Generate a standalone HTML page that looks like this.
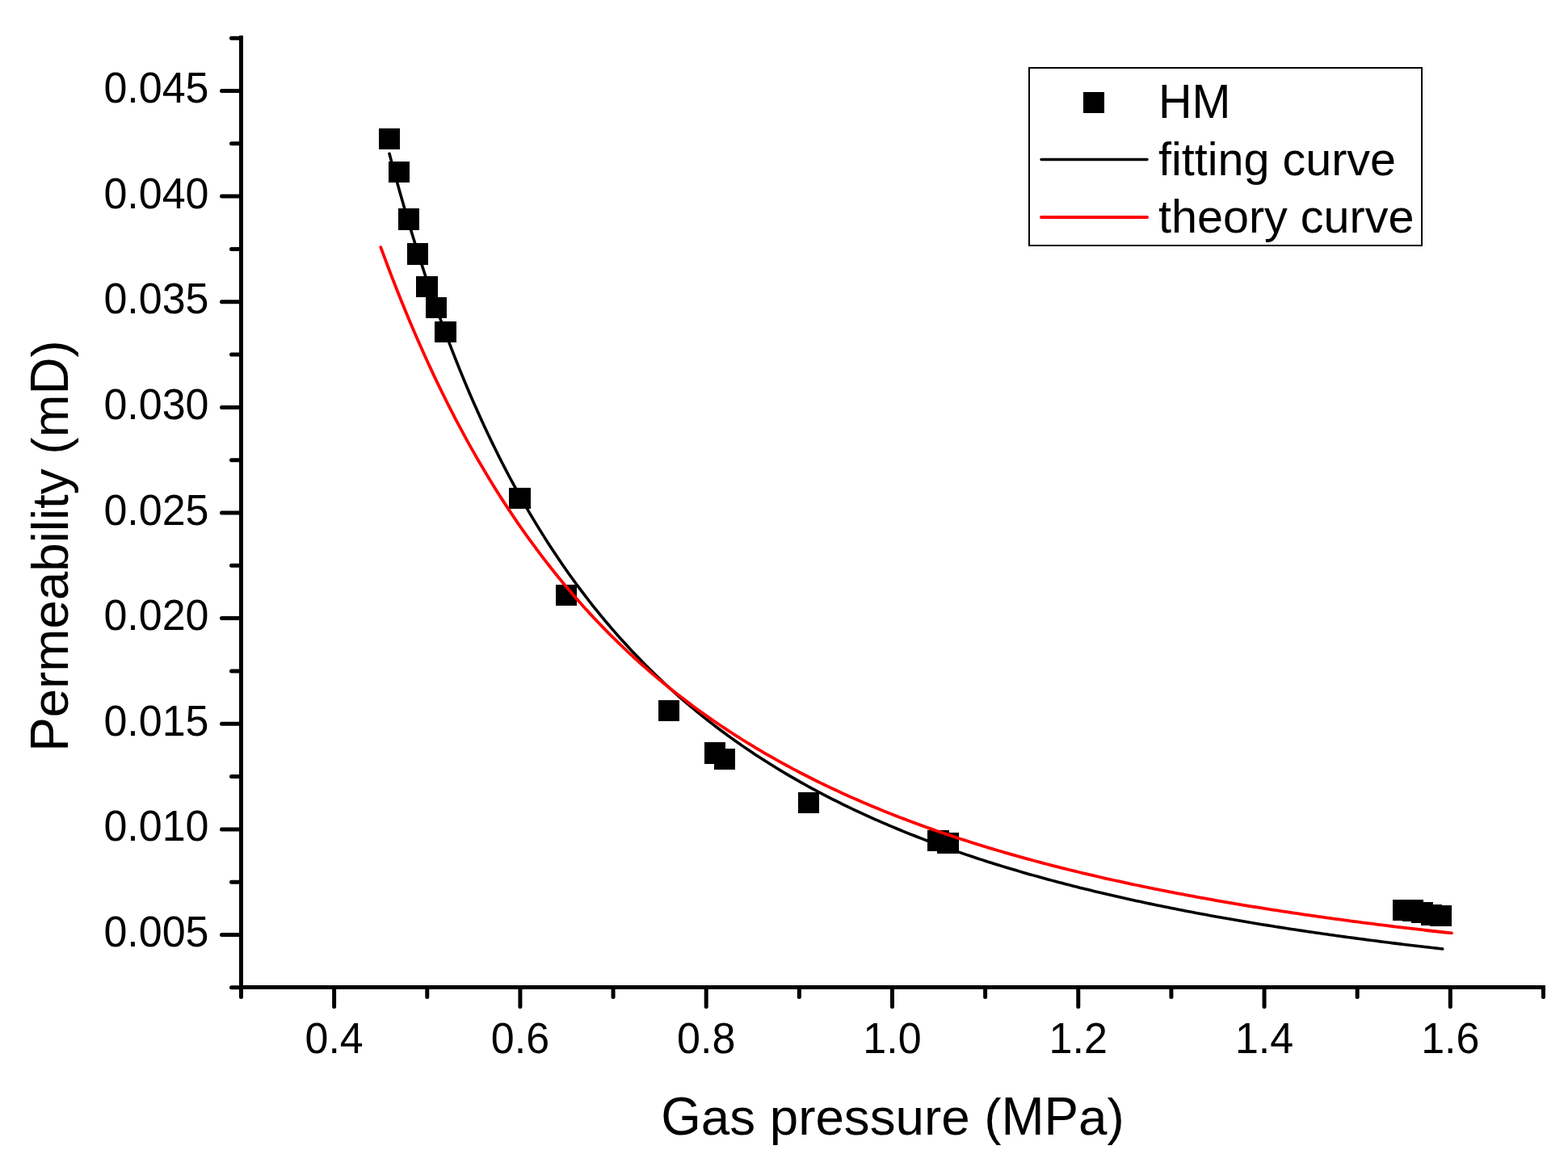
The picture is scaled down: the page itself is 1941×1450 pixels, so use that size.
<!DOCTYPE html>
<html><head><meta charset="utf-8"><style>
html,body{margin:0;padding:0;background:#fff;width:1941px;height:1450px;overflow:hidden;}
svg{display:block;}
text{font-family:"Liberation Sans",sans-serif;fill:#000;}
.tl{font-size:52px;}
.ti{font-size:63.7px;}
.lg{font-size:57.5px;}
</style></head><body>
<svg width="1941" height="1450" viewBox="0 0 1941 1450">
<rect width="1941" height="1450" fill="#fff"/>
<g fill="#000" shape-rendering="crispEdges">
<rect x="469" y="159" width="26" height="26"/>
<rect x="481" y="200" width="26" height="26"/>
<rect x="493" y="258" width="26" height="27"/>
<rect x="504" y="301" width="26" height="27"/>
<rect x="515" y="342" width="27" height="26"/>
<rect x="527" y="368" width="26" height="26"/>
<rect x="538" y="398" width="27" height="26"/>
<rect x="630" y="604" width="27" height="26"/>
<rect x="688" y="724" width="26" height="26"/>
<rect x="815" y="867" width="26" height="26"/>
<rect x="872" y="919" width="26" height="27"/>
<rect x="884" y="927" width="26" height="26"/>
<rect x="988" y="981" width="26" height="26"/>
<rect x="1148" y="1028" width="27" height="26"/>
<rect x="1160" y="1031" width="27" height="26"/>
<rect x="1724" y="1114" width="26" height="26"/>
<rect x="1736" y="1114" width="26" height="27"/>
<rect x="1747" y="1117" width="27" height="26"/>
<rect x="1759" y="1120" width="26" height="26"/>
<rect x="1770" y="1121" width="27" height="26"/>
</g>
<path d="M482.00,190.26 L486.36,206.64 L490.72,222.65 L495.08,238.29 L499.44,253.58 L503.80,268.53 L508.16,283.15 L512.52,297.44 L516.88,311.42 L521.24,325.10 L525.60,338.49 L529.96,351.59 L534.32,364.41 L538.68,376.97 L543.04,389.26 L547.40,401.29 L551.76,413.08 L556.12,424.63 L560.48,435.95 L564.84,447.03 L569.20,457.90 L573.56,468.55 L577.92,478.99 L582.28,489.22 L586.64,499.26 L591.01,509.10 L595.37,518.76 L599.73,528.23 L604.09,537.52 L608.45,546.64 L612.81,555.58 L617.17,564.36 L621.53,572.98 L625.89,581.44 L630.25,589.75 L634.61,597.91 L638.97,605.92 L643.33,613.79 L647.69,621.51 L652.05,629.11 L656.41,636.57 L660.77,643.90 L665.13,651.10 L669.49,658.18 L673.85,665.14 L678.21,671.97 L682.57,678.70 L686.93,685.31 L691.29,691.81 L695.65,698.20 L700.01,704.49 L704.37,710.68 L708.73,716.76 L713.09,722.75 L717.45,728.64 L721.81,734.43 L726.17,740.13 L730.53,745.74 L734.89,751.27 L739.25,756.70 L743.61,762.06 L747.97,767.33 L752.33,772.51 L756.69,777.62 L761.05,782.65 L765.41,787.61 L769.77,792.49 L774.13,797.29 L778.49,802.03 L782.85,806.69 L787.21,811.29 L791.57,815.82 L795.93,820.28 L800.29,824.67 L804.65,829.01 L809.02,833.28 L813.38,837.49 L817.74,841.64 L822.10,845.73 L826.46,849.76 L830.82,853.74 L835.18,857.66 L839.54,861.53 L843.90,865.34 L848.26,869.10 L852.62,872.81 L856.98,876.47 L861.34,880.08 L865.70,883.64 L870.06,887.15 L874.42,890.61 L878.78,894.03 L883.14,897.41 L887.50,900.74 L891.86,904.02 L896.22,907.27 L900.58,910.47 L904.94,913.63 L909.30,916.74 L913.66,919.82 L918.02,922.86 L922.38,925.86 L926.74,928.83 L931.10,931.75 L935.46,934.64 L939.82,937.49 L944.18,940.31 L948.54,943.09 L952.90,945.84 L957.26,948.55 L961.62,951.23 L965.98,953.88 L970.34,956.50 L974.70,959.08 L979.06,961.64 L983.42,964.16 L987.78,966.65 L992.14,969.12 L996.50,971.55 L1000.86,973.96 L1005.22,976.33 L1009.58,978.68 L1013.94,981.01 L1018.30,983.30 L1022.66,985.57 L1027.03,987.81 L1031.39,990.03 L1035.75,992.22 L1040.11,994.39 L1044.47,996.53 L1048.83,998.65 L1053.19,1000.75 L1057.55,1002.82 L1061.91,1004.87 L1066.27,1006.90 L1070.63,1008.90 L1074.99,1010.88 L1079.35,1012.84 L1083.71,1014.78 L1088.07,1016.70 L1092.43,1018.59 L1096.79,1020.47 L1101.15,1022.33 L1105.51,1024.16 L1109.87,1025.98 L1114.23,1027.78 L1118.59,1029.56 L1122.95,1031.32 L1127.31,1033.06 L1131.67,1034.78 L1136.03,1036.48 L1140.39,1038.17 L1144.75,1039.84 L1149.11,1041.49 L1153.47,1043.13 L1157.83,1044.75 L1162.19,1046.35 L1166.55,1047.94 L1170.91,1049.51 L1175.27,1051.06 L1179.63,1052.60 L1183.99,1054.13 L1188.35,1055.63 L1192.71,1057.13 L1197.07,1058.61 L1201.43,1060.07 L1205.79,1061.52 L1210.15,1062.95 L1214.51,1064.37 L1218.87,1065.78 L1223.23,1067.18 L1227.59,1068.56 L1231.95,1069.92 L1236.31,1071.28 L1240.67,1072.62 L1245.04,1073.94 L1249.40,1075.26 L1253.76,1076.56 L1258.12,1077.85 L1262.48,1079.13 L1266.84,1080.40 L1271.20,1081.65 L1275.56,1082.90 L1279.92,1084.13 L1284.28,1085.35 L1288.64,1086.56 L1293.00,1087.75 L1297.36,1088.94 L1301.72,1090.12 L1306.08,1091.28 L1310.44,1092.43 L1314.80,1093.58 L1319.16,1094.71 L1323.52,1095.84 L1327.88,1096.95 L1332.24,1098.05 L1336.60,1099.15 L1340.96,1100.23 L1345.32,1101.30 L1349.68,1102.37 L1354.04,1103.42 L1358.40,1104.47 L1362.76,1105.51 L1367.12,1106.54 L1371.48,1107.55 L1375.84,1108.56 L1380.20,1109.57 L1384.56,1110.56 L1388.92,1111.54 L1393.28,1112.52 L1397.64,1113.49 L1402.00,1114.45 L1406.36,1115.40 L1410.72,1116.34 L1415.08,1117.28 L1419.44,1118.20 L1423.80,1119.12 L1428.16,1120.03 L1432.52,1120.94 L1436.88,1121.84 L1441.24,1122.73 L1445.60,1123.61 L1449.96,1124.48 L1454.32,1125.35 L1458.68,1126.21 L1463.05,1127.06 L1467.41,1127.91 L1471.77,1128.75 L1476.13,1129.58 L1480.49,1130.41 L1484.85,1131.23 L1489.21,1132.04 L1493.57,1132.85 L1497.93,1133.65 L1502.29,1134.44 L1506.65,1135.23 L1511.01,1136.01 L1515.37,1136.78 L1519.73,1137.55 L1524.09,1138.31 L1528.45,1139.07 L1532.81,1139.82 L1537.17,1140.57 L1541.53,1141.31 L1545.89,1142.04 L1550.25,1142.77 L1554.61,1143.49 L1558.97,1144.21 L1563.33,1144.92 L1567.69,1145.62 L1572.05,1146.32 L1576.41,1147.02 L1580.77,1147.71 L1585.13,1148.39 L1589.49,1149.07 L1593.85,1149.75 L1598.21,1150.42 L1602.57,1151.08 L1606.93,1151.74 L1611.29,1152.39 L1615.65,1153.04 L1620.01,1153.69 L1624.37,1154.33 L1628.73,1154.96 L1633.09,1155.59 L1637.45,1156.22 L1641.81,1156.84 L1646.17,1157.46 L1650.53,1158.07 L1654.89,1158.68 L1659.25,1159.28 L1663.61,1159.88 L1667.97,1160.48 L1672.33,1161.07 L1676.69,1161.65 L1681.06,1162.24 L1685.42,1162.81 L1689.78,1163.39 L1694.14,1163.96 L1698.50,1164.52 L1702.86,1165.09 L1707.22,1165.64 L1711.58,1166.20 L1715.94,1166.75 L1720.30,1167.29 L1724.66,1167.84 L1729.02,1168.38 L1733.38,1168.91 L1737.74,1169.44 L1742.10,1169.97 L1746.46,1170.49 L1750.82,1171.01 L1755.18,1171.53 L1759.54,1172.04 L1763.90,1172.55 L1768.26,1173.06 L1772.62,1173.56 L1776.98,1174.06 L1781.34,1174.56 L1785.70,1175.05" fill="none" stroke="#000" stroke-width="3.6" stroke-linejoin="round" stroke-linecap="round"/>
<path d="M471.30,306.11 L475.73,318.15 L480.17,329.98 L484.60,341.61 L489.03,353.02 L493.47,364.24 L497.90,375.26 L502.33,386.09 L506.77,396.74 L511.20,407.20 L515.63,417.48 L520.07,427.58 L524.50,437.52 L528.93,447.28 L533.37,456.88 L537.80,466.32 L542.24,475.61 L546.67,484.73 L551.10,493.71 L555.54,502.54 L559.97,511.22 L564.40,519.76 L568.84,528.17 L573.27,536.43 L577.70,544.57 L582.14,552.57 L586.57,560.44 L591.00,568.19 L595.44,575.81 L599.87,583.32 L604.30,590.71 L608.74,597.98 L613.17,605.13 L617.60,612.18 L622.04,619.12 L626.47,625.95 L630.90,632.67 L635.34,639.29 L639.77,645.82 L644.20,652.24 L648.64,658.57 L653.07,664.80 L657.50,670.93 L661.94,676.98 L666.37,682.94 L670.81,688.81 L675.24,694.59 L679.67,700.29 L684.11,705.90 L688.54,711.44 L692.97,716.89 L697.41,722.26 L701.84,727.56 L706.27,732.78 L710.71,737.93 L715.14,743.01 L719.57,748.01 L724.01,752.94 L728.44,757.80 L732.87,762.60 L737.31,767.33 L741.74,771.99 L746.17,776.59 L750.61,781.13 L755.04,785.61 L759.47,790.02 L763.91,794.37 L768.34,798.67 L772.77,802.91 L777.21,807.09 L781.64,811.21 L786.07,815.28 L790.51,819.30 L794.94,823.26 L799.37,827.18 L803.81,831.04 L808.24,834.85 L812.68,838.61 L817.11,842.32 L821.54,845.99 L825.98,849.60 L830.41,853.18 L834.84,856.70 L839.28,860.18 L843.71,863.62 L848.14,867.02 L852.58,870.37 L857.01,873.68 L861.44,876.95 L865.88,880.17 L870.31,883.36 L874.74,886.51 L879.18,889.62 L883.61,892.70 L888.04,895.73 L892.48,898.73 L896.91,901.69 L901.34,904.62 L905.78,907.51 L910.21,910.37 L914.64,913.20 L919.08,915.99 L923.51,918.74 L927.94,921.47 L932.38,924.16 L936.81,926.82 L941.25,929.45 L945.68,932.05 L950.11,934.63 L954.55,937.17 L958.98,939.68 L963.41,942.16 L967.85,944.62 L972.28,947.04 L976.71,949.44 L981.15,951.82 L985.58,954.16 L990.01,956.48 L994.45,958.78 L998.88,961.04 L1003.31,963.29 L1007.75,965.51 L1012.18,967.70 L1016.61,969.87 L1021.05,972.02 L1025.48,974.14 L1029.91,976.24 L1034.35,978.32 L1038.78,980.37 L1043.21,982.41 L1047.65,984.42 L1052.08,986.41 L1056.51,988.38 L1060.95,990.33 L1065.38,992.26 L1069.82,994.16 L1074.25,996.05 L1078.68,997.92 L1083.12,999.77 L1087.55,1001.60 L1091.98,1003.41 L1096.42,1005.20 L1100.85,1006.97 L1105.28,1008.73 L1109.72,1010.47 L1114.15,1012.19 L1118.58,1013.89 L1123.02,1015.57 L1127.45,1017.24 L1131.88,1018.89 L1136.32,1020.53 L1140.75,1022.15 L1145.18,1023.75 L1149.62,1025.34 L1154.05,1026.91 L1158.48,1028.46 L1162.92,1030.01 L1167.35,1031.53 L1171.78,1033.04 L1176.22,1034.54 L1180.65,1036.02 L1185.08,1037.49 L1189.52,1038.94 L1193.95,1040.38 L1198.38,1041.80 L1202.82,1043.22 L1207.25,1044.61 L1211.69,1046.00 L1216.12,1047.37 L1220.55,1048.73 L1224.99,1050.08 L1229.42,1051.41 L1233.85,1052.73 L1238.29,1054.04 L1242.72,1055.34 L1247.15,1056.62 L1251.59,1057.90 L1256.02,1059.16 L1260.45,1060.41 L1264.89,1061.65 L1269.32,1062.87 L1273.75,1064.09 L1278.19,1065.29 L1282.62,1066.49 L1287.05,1067.67 L1291.49,1068.85 L1295.92,1070.01 L1300.35,1071.16 L1304.79,1072.30 L1309.22,1073.43 L1313.65,1074.56 L1318.09,1075.67 L1322.52,1076.77 L1326.95,1077.86 L1331.39,1078.94 L1335.82,1080.02 L1340.26,1081.08 L1344.69,1082.14 L1349.12,1083.18 L1353.56,1084.22 L1357.99,1085.25 L1362.42,1086.27 L1366.86,1087.28 L1371.29,1088.28 L1375.72,1089.27 L1380.16,1090.26 L1384.59,1091.23 L1389.02,1092.20 L1393.46,1093.16 L1397.89,1094.11 L1402.32,1095.06 L1406.76,1095.99 L1411.19,1096.92 L1415.62,1097.84 L1420.06,1098.76 L1424.49,1099.66 L1428.92,1100.56 L1433.36,1101.45 L1437.79,1102.34 L1442.22,1103.21 L1446.66,1104.08 L1451.09,1104.94 L1455.52,1105.80 L1459.96,1106.65 L1464.39,1107.49 L1468.83,1108.32 L1473.26,1109.15 L1477.69,1109.97 L1482.13,1110.79 L1486.56,1111.60 L1490.99,1112.40 L1495.43,1113.20 L1499.86,1113.99 L1504.29,1114.77 L1508.73,1115.55 L1513.16,1116.32 L1517.59,1117.08 L1522.03,1117.84 L1526.46,1118.60 L1530.89,1119.34 L1535.33,1120.09 L1539.76,1120.82 L1544.19,1121.55 L1548.63,1122.28 L1553.06,1123.00 L1557.49,1123.71 L1561.93,1124.42 L1566.36,1125.12 L1570.79,1125.82 L1575.23,1126.51 L1579.66,1127.20 L1584.09,1127.88 L1588.53,1128.56 L1592.96,1129.23 L1597.39,1129.90 L1601.83,1130.56 L1606.26,1131.22 L1610.70,1131.87 L1615.13,1132.52 L1619.56,1133.16 L1624.00,1133.80 L1628.43,1134.44 L1632.86,1135.06 L1637.30,1135.69 L1641.73,1136.31 L1646.16,1136.92 L1650.60,1137.54 L1655.03,1138.14 L1659.46,1138.74 L1663.90,1139.34 L1668.33,1139.94 L1672.76,1140.53 L1677.20,1141.11 L1681.63,1141.69 L1686.06,1142.27 L1690.50,1142.84 L1694.93,1143.41 L1699.36,1143.98 L1703.80,1144.54 L1708.23,1145.09 L1712.66,1145.65 L1717.10,1146.20 L1721.53,1146.74 L1725.96,1147.28 L1730.40,1147.82 L1734.83,1148.35 L1739.27,1148.89 L1743.70,1149.41 L1748.13,1149.94 L1752.57,1150.46 L1757.00,1150.97 L1761.43,1151.48 L1765.87,1151.99 L1770.30,1152.50 L1774.73,1153.00 L1779.17,1153.50 L1783.60,1154.00 L1788.03,1154.49 L1792.47,1154.98 L1796.90,1155.46" fill="none" stroke="#f00" stroke-width="3.8" stroke-linejoin="round" stroke-linecap="round"/>
<g>
<line x1="298.5" y1="44" x2="298.5" y2="1225" stroke="#000" stroke-width="5"/>
<line x1="296" y1="1222.5" x2="1913" y2="1222.5" stroke="#000" stroke-width="5"/>
<g stroke="#000" stroke-width="5" stroke-linecap="round">
<line x1="286.5" y1="1222.81" x2="298.5" y2="1222.81"/>
<line x1="274.5" y1="1157.50" x2="298.5" y2="1157.50"/>
<line x1="286.5" y1="1092.19" x2="298.5" y2="1092.19"/>
<line x1="274.5" y1="1026.88" x2="298.5" y2="1026.88"/>
<line x1="286.5" y1="961.56" x2="298.5" y2="961.56"/>
<line x1="274.5" y1="896.25" x2="298.5" y2="896.25"/>
<line x1="286.5" y1="830.94" x2="298.5" y2="830.94"/>
<line x1="274.5" y1="765.62" x2="298.5" y2="765.62"/>
<line x1="286.5" y1="700.31" x2="298.5" y2="700.31"/>
<line x1="274.5" y1="635.00" x2="298.5" y2="635.00"/>
<line x1="286.5" y1="569.69" x2="298.5" y2="569.69"/>
<line x1="274.5" y1="504.38" x2="298.5" y2="504.38"/>
<line x1="286.5" y1="439.06" x2="298.5" y2="439.06"/>
<line x1="274.5" y1="373.75" x2="298.5" y2="373.75"/>
<line x1="286.5" y1="308.44" x2="298.5" y2="308.44"/>
<line x1="274.5" y1="243.12" x2="298.5" y2="243.12"/>
<line x1="286.5" y1="177.81" x2="298.5" y2="177.81"/>
<line x1="274.5" y1="112.50" x2="298.5" y2="112.50"/>
<line x1="286.5" y1="47.19" x2="298.5" y2="47.19"/>
<line x1="298.50" y1="1222.5" x2="298.50" y2="1234.5"/>
<line x1="413.64" y1="1222.5" x2="413.64" y2="1246.5"/>
<line x1="528.78" y1="1222.5" x2="528.78" y2="1234.5"/>
<line x1="643.92" y1="1222.5" x2="643.92" y2="1246.5"/>
<line x1="759.06" y1="1222.5" x2="759.06" y2="1234.5"/>
<line x1="874.20" y1="1222.5" x2="874.20" y2="1246.5"/>
<line x1="989.34" y1="1222.5" x2="989.34" y2="1234.5"/>
<line x1="1104.48" y1="1222.5" x2="1104.48" y2="1246.5"/>
<line x1="1219.62" y1="1222.5" x2="1219.62" y2="1234.5"/>
<line x1="1334.76" y1="1222.5" x2="1334.76" y2="1246.5"/>
<line x1="1449.90" y1="1222.5" x2="1449.90" y2="1234.5"/>
<line x1="1565.04" y1="1222.5" x2="1565.04" y2="1246.5"/>
<line x1="1680.18" y1="1222.5" x2="1680.18" y2="1234.5"/>
<line x1="1795.32" y1="1222.5" x2="1795.32" y2="1246.5"/>
<line x1="1910.46" y1="1222.5" x2="1910.46" y2="1234.5"/>
</g>
</g>
<text transform="translate(258.5,1172.0) scale(1,1.04)" text-anchor="end" class="tl">0.005</text>
<text transform="translate(258.5,1041.4) scale(1,1.04)" text-anchor="end" class="tl">0.010</text>
<text transform="translate(258.5,910.8) scale(1,1.04)" text-anchor="end" class="tl">0.015</text>
<text transform="translate(258.5,780.1) scale(1,1.04)" text-anchor="end" class="tl">0.020</text>
<text transform="translate(258.5,649.5) scale(1,1.04)" text-anchor="end" class="tl">0.025</text>
<text transform="translate(258.5,518.9) scale(1,1.04)" text-anchor="end" class="tl">0.030</text>
<text transform="translate(258.5,388.2) scale(1,1.04)" text-anchor="end" class="tl">0.035</text>
<text transform="translate(258.5,257.6) scale(1,1.04)" text-anchor="end" class="tl">0.040</text>
<text transform="translate(258.5,127.0) scale(1,1.04)" text-anchor="end" class="tl">0.045</text>
<text transform="translate(413.64,1303.8) scale(1,1.04)" text-anchor="middle" class="tl">0.4</text>
<text transform="translate(643.92,1303.8) scale(1,1.04)" text-anchor="middle" class="tl">0.6</text>
<text transform="translate(874.20,1303.8) scale(1,1.04)" text-anchor="middle" class="tl">0.8</text>
<text transform="translate(1104.48,1303.8) scale(1,1.04)" text-anchor="middle" class="tl">1.0</text>
<text transform="translate(1334.76,1303.8) scale(1,1.04)" text-anchor="middle" class="tl">1.2</text>
<text transform="translate(1565.04,1303.8) scale(1,1.04)" text-anchor="middle" class="tl">1.4</text>
<text transform="translate(1795.32,1303.8) scale(1,1.04)" text-anchor="middle" class="tl">1.6</text>
<text transform="translate(818.33,1404.5) scale(1,1.04)" class="ti">G</text>
<text x="867.86" y="1404.5" class="ti">as pressure (</text>
<text transform="translate(1239.50,1404.5) scale(1,1.04)" class="ti">MP</text>
<text x="1335.03" y="1404.5" class="ti">a)</text>
<g transform="translate(84,676) rotate(-90)">
<text transform="translate(-254.78,0) scale(1,1.04)" class="ti">P</text>
<text x="-212.31" y="0" class="ti">ermeability (m</text>
<text transform="translate(187.58,0) scale(1,1.04)" class="ti">D</text>
<text x="233.56" y="0" class="ti">)</text>
</g>
<rect x="1274" y="84" width="486" height="220" fill="none" stroke="#000" stroke-width="2"/>
<rect x="1341" y="114" width="26" height="26" fill="#000"/>
<line x1="1289" y1="197.5" x2="1420" y2="197.5" stroke="#000" stroke-width="3.4" stroke-linecap="round"/>
<line x1="1289" y1="269" x2="1420" y2="269" stroke="#f00" stroke-width="4" stroke-linecap="round"/>
<text transform="translate(1434.00,146) scale(1,1.04)" class="lg">HM</text>
<text x="1434.00" y="217" class="lg">fitting curve</text>
<text x="1434.00" y="288" class="lg">theory curve</text>
</svg>
</body></html>
